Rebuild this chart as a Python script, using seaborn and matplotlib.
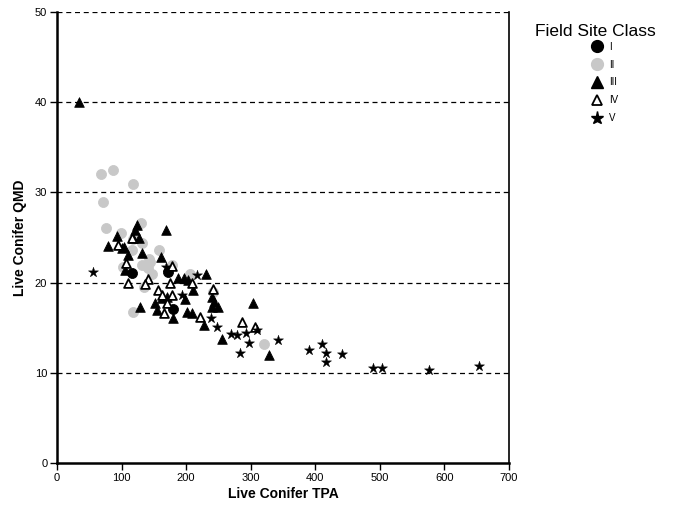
import pandas as pd
import matplotlib.pyplot as plt
import seaborn as sns
from matplotlib.lines import Line2D

# Field site class data (Live Conifer TPA vs QMD)
class_i_tpa = [116, 172, 180]
class_i_qmd = [21.1, 21.2, 17.1]

class_ii_tpa = [68, 86, 117, 72, 76, 130, 99, 132, 116, 158, 143, 118, 132, 144,
                141, 102, 178, 206, 134, 320, 242, 147, 118]
class_ii_qmd = [32.0, 32.5, 30.9, 28.9, 26.1, 26.6, 25.5, 24.4, 23.6, 23.6, 22.6, 16.7, 22.0, 22.3,
                21.6, 21.7, 22.0, 21.0, 19.5, 13.2, 19.0, 21.0, 24.8]

class_iii_tpa = [34, 124, 169, 93, 121, 118, 127, 79, 104, 110, 132, 161, 101, 106,
                 188, 196, 203, 230, 211, 129, 152, 155, 163, 180, 202, 209, 227, 240,
                 243, 240, 171, 199, 250, 304, 256, 328]
class_iii_qmd = [40.0, 26.4, 25.8, 25.2, 25.8, 25.0, 25.0, 24.1, 24.0, 23.1, 23.3, 22.8, 23.8, 21.4,
                 20.5, 20.5, 20.3, 21.0, 19.2, 17.3, 17.7, 17.0, 18.3, 16.1, 16.7, 16.6, 15.3, 18.4,
                 17.8, 17.3, 18.4, 18.2, 17.3, 17.7, 13.7, 12.0]

class_iv_tpa = [95, 107, 110, 141, 137, 175, 178, 157, 178, 163, 170, 165, 209, 222,
                242, 116, 287, 307]
class_iv_qmd = [24.2, 22.2, 20.0, 20.4, 19.8, 20.0, 21.8, 19.2, 18.6, 18.6, 17.7, 16.6, 20.0, 16.2,
                19.3, 25.0, 15.6, 15.1]

class_v_tpa = [56, 169, 217, 194, 238, 248, 269, 279, 292, 310, 297, 283, 343, 390,
               411, 416, 416, 441, 489, 504, 576, 653]
class_v_qmd = [21.2, 21.7, 20.8, 18.6, 16.1, 15.1, 14.3, 14.2, 14.4, 14.7, 13.3, 12.2, 13.6, 12.5,
               13.2, 12.2, 11.2, 12.1, 10.5, 10.5, 10.3, 10.8]

sns.set_theme(style='ticks')
plt.rcParams['font.family'] = ['Liberation Sans', 'DejaVu Sans']

fig = plt.figure(figsize=(6.96, 5.08), dpi=100)
ax = fig.add_axes([57 / 696, 1 - 463 / 508, 452 / 696, 451 / 508])

# dashed reference lines
for yv in [10, 20, 30, 40, 50]:
    ax.axhline(yv, color='black', linestyle=(0, (4, 3)), linewidth=0.9, zorder=1)

styles = [
    ('II', class_ii_tpa, class_ii_qmd, dict(marker='o', s=52, color='#c8c8c8', edgecolor='#c8c8c8')),
    ('I', class_i_tpa, class_i_qmd, dict(marker='o', s=52, color='black', edgecolor='black')),
    ('III', class_iii_tpa, class_iii_qmd, dict(marker='^', s=48, color='black', edgecolor='black')),
    ('IV', class_iv_tpa, class_iv_qmd, dict(marker='^', s=40, color='white', edgecolor='black', linewidth=1.3)),
    ('V', class_v_tpa, class_v_qmd, dict(marker='*', s=58, color='black', edgecolor='black', linewidth=0.3)),
]
for name, xs, ys, kw in styles:
    df = pd.DataFrame({'tpa': xs, 'qmd': ys})
    sns.scatterplot(data=df, x='tpa', y='qmd', ax=ax, zorder=3, legend=False, **kw)

ax.set_xlim(0, 700)
ax.set_ylim(0, 50)
ax.set_xticks(range(0, 701, 100))
ax.set_yticks(range(0, 51, 10))
ax.tick_params(axis='both', direction='out', length=5, width=1, labelsize=8, colors='black', pad=2)
ax.set_xlabel('Live Conifer TPA', fontsize=10, fontweight='bold', labelpad=3, color='black')
ax.set_ylabel('Live Conifer QMD', fontsize=10, fontweight='bold', labelpad=6, color='black')

ax.spines['top'].set_visible(False)
ax.spines['left'].set_linewidth(1.8)
ax.spines['bottom'].set_linewidth(1.8)
ax.spines['right'].set_linewidth(1.2)
for sp in ax.spines.values():
    sp.set_color('black')

# legend
fig.text(535 / 696, 1 - 36 / 508, 'Field Site Class', fontsize=12.5, ha='left', va='baseline',
         color='black')
handles = [
    Line2D([], [], linestyle='none', marker='o', markersize=8.5, color='black'),
    Line2D([], [], linestyle='none', marker='o', markersize=8.5, color='#c8c8c8'),
    Line2D([], [], linestyle='none', marker='^', markersize=8.5, color='black'),
    Line2D([], [], linestyle='none', marker='^', markersize=7.5, markerfacecolor='white',
           markeredgecolor='black', markeredgewidth=1.3),
    Line2D([], [], linestyle='none', marker='*', markersize=9.5, color='black'),
]
leg = fig.legend(handles, ['I', 'II', 'III', 'IV', 'V'], loc='upper left',
                 bbox_to_anchor=(586 / 696, 1 - 38 / 508), frameon=False, fontsize=7,
                 handletextpad=0.5, labelspacing=0.8, borderaxespad=0, handlelength=1.5)
for t in leg.get_texts():
    t.set_color('black')

plt.savefig('out.png', dpi=100)
